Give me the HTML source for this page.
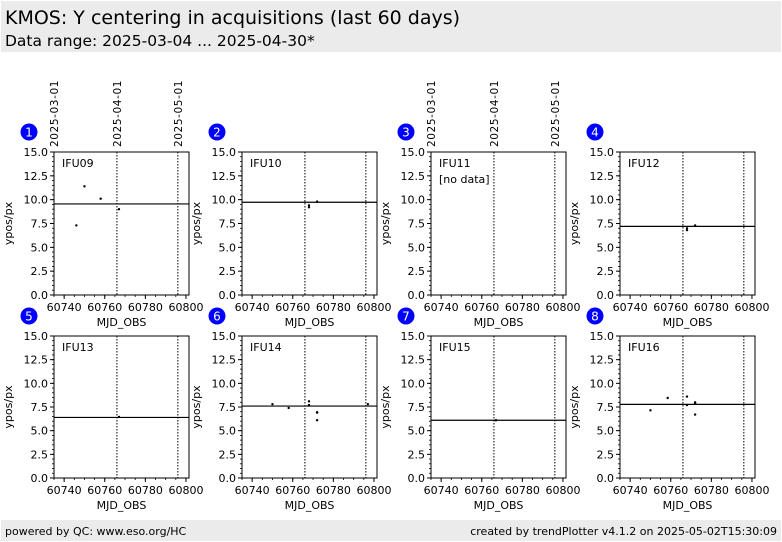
<!DOCTYPE html>
<html><head><meta charset="utf-8">
<style>
body{margin:0;width:782px;height:542px;background:#fff;font-family:"DejaVu Sans","Liberation Sans",sans-serif;overflow:hidden;position:relative}
#hdr{position:absolute;left:1px;top:1px;width:780px;height:51px;background:#ebebeb}
#t1{position:absolute;left:4px;top:6px;font-size:19px;color:#000}
#t2{position:absolute;left:4px;top:31px;font-size:15.5px;color:#000}
#ftr{position:absolute;left:1px;top:520px;width:780px;height:21px;background:#ebebeb;font-size:11px}
#fl{position:absolute;left:4px;top:5px}
#fr{position:absolute;right:4px;top:5px}
svg{position:absolute;left:0;top:0}
</style></head><body>
<div id="hdr">
<div id="t1">KMOS: Y centering in acquisitions (last 60 days)</div>
<div id="t2">Data range: 2025-03-04 ... 2025-04-30*</div>
</div>
<div id="ftr">
<span id="fl">powered by QC: www.eso.org/HC</span>
<span id="fr">created by trendPlotter v4.1.2 on 2025-05-02T15:30:09</span>
</div>
<svg id="chart" width="782" height="542"></svg>
<script>
const panelNames=["IFU09","IFU10","IFU11","IFU12","IFU13","IFU14","IFU15","IFU16"];
const medians=[9.55,9.73,null,7.2,6.4,7.6,6.1,7.78];
const ptsX=[[60746,60750,60758,60767],[60768,60768,60772],[],[60768,60768,60772],[60767],[60750,60758,60768,60768,60772,60772,60772,60797],[60767],[60750,60758.5,60768,60768,60772,60772,60772]];
const ptsY=[[7.3,11.4,10.1,9.0],[9.2,9.4,9.8],[],[6.8,7.0,7.3],[6.45],[7.8,7.4,8.1,7.7,6.9,6.95,6.1,7.8],[6.1],[7.15,8.45,8.6,7.7,8.0,7.9,6.7]];
const xTicks=[60740,60760,60780,60800];
const yTicks=[0,2.5,5,7.5,10,12.5,15];
const dateLines=[60735,60766,60796];
const dateLabels=["2025-03-01","2025-04-01","2025-05-01"];
const X0=60735,X1=60801.5,Y0=0,Y1=15;
const colL=[54,242,431,620],rowT=[152,336],W=135,H=143;
const NS="http://www.w3.org/2000/svg";
const svg=document.getElementById('chart');
function mk(tag,attrs,parent){const e=document.createElementNS(NS,tag);for(const k in attrs)e.setAttribute(k,attrs[k]);(parent||svg).appendChild(e);return e;}
panelNames.forEach((nm,i)=>{
 const L=colL[i%4],T=rowT[Math.floor(i/4)],h=i<4?143:142;
 const sx=v=>L+(v-X0)/(X1-X0)*W, sy=v=>T+h-(v-Y0)/(Y1-Y0)*h;
 const g=mk('g',{});
 
 
 dateLines.forEach(d=>{const l=mk('line',{x1:sx(d),x2:sx(d),y1:T,y2:T+h,stroke:'#000','stroke-width':1,'stroke-dasharray':'1.5,1.5'},g);
  });
 if(i%4===0||i%4===2){ if(i<4) dateLabels.forEach((s,k)=>{const x=sx(dateLines[k]);const t=mk('text',{x:0,y:0,transform:`translate(${x+4},147) rotate(-90)`,'font-size':10.5,'letter-spacing':'0.6'},g);t.textContent=s;
  });}
 const fr=mk('rect',{x:L,y:T,width:W,height:h,fill:'none',stroke:'#000','stroke-width':1},g);
 
 xTicks.forEach(v=>{const x=sx(v);mk('line',{x1:x,x2:x,y1:T+h,y2:T+h+4,stroke:'#000'},g);
  const t=mk('text',{x:x,y:T+h+16,'font-size':11,'text-anchor':'middle'},g);t.textContent=v;
  });
 for(let v=60735;v<=60801;v+=5){const x=sx(v);mk('line',{x1:x,x2:x,y1:T+h,y2:T+h+2,stroke:'#000','stroke-width':0.8},g);}
 yTicks.forEach(v=>{const y=sy(v);mk('line',{x1:L-4,x2:L,y1:y,y2:y,stroke:'#000'},g);
  const t=mk('text',{x:L-6,y:y+4,'font-size':11,'text-anchor':'end'},g);t.textContent=v.toFixed(1);
  });
 for(let v=0;v<=15;v+=0.5){const y=sy(v);mk('line',{x1:L-2,x2:L,y1:y,y2:y,stroke:'#000','stroke-width':0.8},g);}
 const xt=mk('text',{x:L+W/2,y:T+h+31,'font-size':11,'text-anchor':'middle'},g);xt.textContent='MJD_OBS';
 
 const yt=mk('text',{x:0,y:0,transform:`translate(${L-42},${T+h/2}) rotate(-90)`,'font-size':11,'text-anchor':'middle'},g);yt.textContent='ypos/px';
 
 const lb=mk('text',{x:L+8,y:T+15,'font-size':11},g);lb.textContent=nm;
 
 if(medians[i]===null){const nd=mk('text',{x:L+8,y:T+31,'font-size':11},g);nd.textContent='[no data]';
  }
 else{const ml=mk('line',{x1:L,x2:L+W,y1:sy(medians[i]),y2:sy(medians[i]),stroke:'#000','stroke-width':1.2},g);
  }
 ptsX[i].forEach((v,k)=>{const c=mk('circle',{cx:sx(v),cy:sy(ptsY[i][k]),r:1.2,fill:'#000'},g);
  });
 const cx=L-25,cy=T-20;
 const b=mk('circle',{cx:cx,cy:cy,r:8.5,fill:'#0000ff'},g);
 
 const bt=mk('text',{x:cx,y:cy+4.5,'font-size':12,'text-anchor':'middle',fill:'#fff'},g);bt.textContent=String(i+1);
 
});
</script>
</body></html>
